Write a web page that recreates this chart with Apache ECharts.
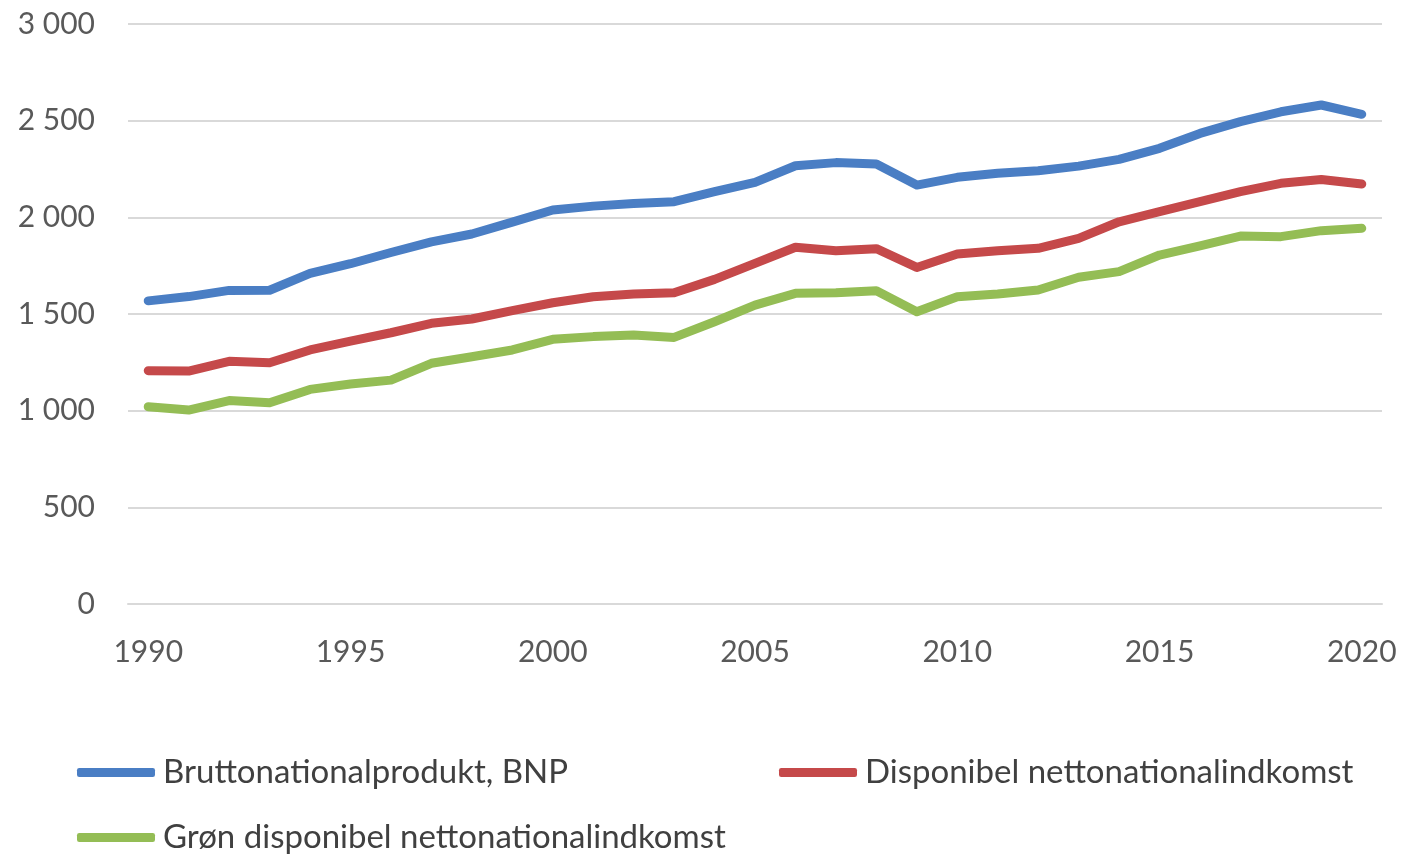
<!DOCTYPE html>
<html><head><meta charset="utf-8">
<script src="https://cdn.jsdelivr.net/npm/echarts@6/dist/echarts.min.js"></script>
<style>html,body{margin:0;padding:0;background:#fff}#c{width:1401px;height:855px}</style>
</head><body><div id="c"></div>
<script>
const years = [];
for (let y = 1990; y <= 2020; y++) years.push(String(y));
const bnp = [1568,1590,1622,1623,1710,1760,1818,1873,1914,1975,2038,2058,2072,2081,2133,2181,2267,2283,2276,2167,2207,2228,2241,2265,2300,2357,2434,2495,2546,2581,2533];
const disp = [1207,1205,1255,1248,1314,1360,1403,1452,1474,1517,1558,1589,1603,1610,1679,1762,1845,1827,1838,1741,1810,1827,1840,1891,1977,2029,2081,2133,2176,2196,2172];
const green = [1020,1003,1052,1041,1110,1138,1158,1245,1279,1314,1369,1383,1391,1379,1460,1546,1607,1610,1620,1512,1589,1603,1624,1690,1719,1805,1852,1903,1900,1931,1943];
const names = ['Bruttonationalprodukt, BNP','Disponibel nettonationalindkomst','Grøn disponibel nettonationalindkomst'];
const colors = ['#4a7ec4','#c5494a','#94bd55'];
const yTicks = ['0','500','1 000','1 500','2 000','2 500','3 000'];
const font = 'Lato, "Open Sans", sans-serif';
const chart = echarts.init(document.getElementById('c'));
const legendBase = {
  orient:'horizontal', icon:'roundRect', itemWidth:78, itemHeight:9, itemGap:0, padding:0,
  textStyle:{fontFamily:font, fontSize:33, color:'#404040', padding:[0,0,0,3]}
};
chart.setOption({
  animation:false,
  color: colors,
  grid:{left:128, right:19, top:24, bottom:251, containLabel:false},
  legend:[
    Object.assign({}, legendBase, {data:[names[0]], left:77, top:756}),
    Object.assign({}, legendBase, {data:[names[1]], left:779, top:756}),
    Object.assign({}, legendBase, {data:[names[2]], left:77, top:821})
  ],
  xAxis:{
    type:'category', data:years, boundaryGap:true,
    axisLine:{lineStyle:{color:'#d9d9d9', width:2}},
    axisTick:{show:false},
    axisLabel:{interval:4, margin:33, fontFamily:font, fontSize:30, color:'#595959'}
  },
  yAxis:{
    type:'value', min:0, max:3000, interval:500,
    axisLine:{show:false}, axisTick:{show:false},
    splitLine:{lineStyle:{color:'#d9d9d9', width:2}},
    axisLabel:{margin:33, fontFamily:font, fontSize:30, color:'#595959',
      formatter:(v)=>yTicks[Math.round(v/500)]}
  },
  series:[bnp,disp,green].map((d,i)=>({
    name:names[i], type:'line', data:d, symbol:'none', smooth:false,
    lineStyle:{width:9, color:colors[i], cap:'round', join:'round'},
    itemStyle:{color:colors[i]}
  }))
});
</script></body></html>
